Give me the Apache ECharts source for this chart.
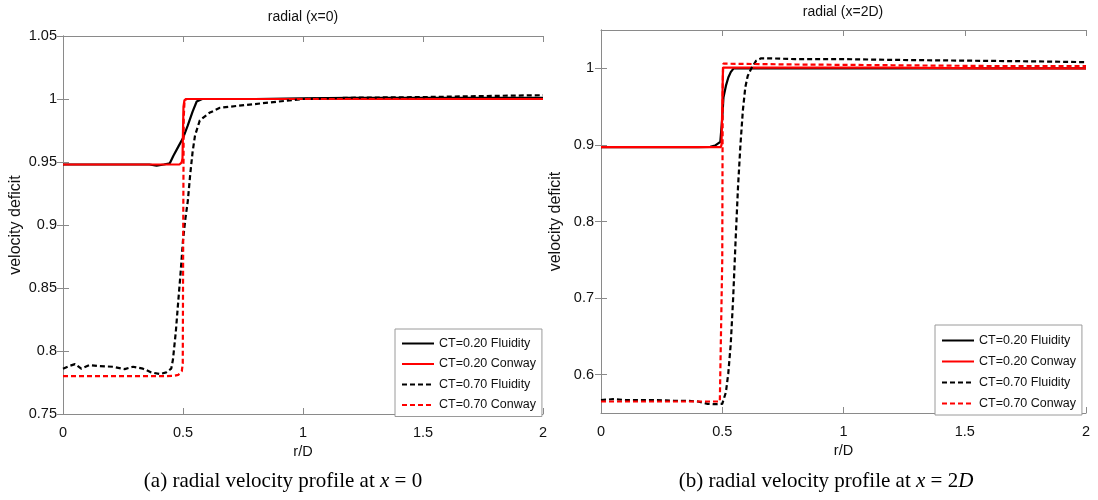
<!DOCTYPE html>
<html>
<head>
<meta charset="utf-8">
<script src="https://cdn.jsdelivr.net/npm/echarts@6/dist/echarts.min.js"></script>
<style>
  html, body { margin: 0; padding: 0; background: #fff; }
  #chart { width: 1098px; height: 500px; }
</style>
</head>
<body>
<div id="chart"></div>
<script>
// Series names (shared by both panels)
const seriesNames = ['CT=0.20 Fluidity', 'CT=0.20 Conway', 'CT=0.70 Fluidity', 'CT=0.70 Conway'];

// x-axis tick values (r/D)
const rTicks = [0, 0.5, 1, 1.5, 2];
// y-axis tick values, panel (b)
const deficitTicksB = [0.6, 0.7, 0.8, 0.9, 1.0];

// ---- Panel (a): radial profile at x = 0 ----
const rA_ct20_fluidity = [0, 0.1, 0.2, 0.3, 0.36, 0.39, 0.42, 0.445, 0.46, 0.48, 0.5, 0.52, 0.54, 0.557, 0.58, 0.7, 0.8, 1.0, 1.2, 1.5, 2.0];
const vA_ct20_fluidity = [0.948, 0.948, 0.948, 0.948, 0.948, 0.947, 0.948, 0.949, 0.955, 0.962, 0.969, 0.979, 0.99, 0.998, 1.0, 1.0, 1.0, 1.0005, 1.001, 1.001, 1.001];

const rA_ct20_conway = [0, 0.2, 0.4, 0.485, 0.494, 0.498, 0.5, 0.502, 0.506, 0.515, 0.54, 1.0, 1.5, 2.0];
const vA_ct20_conway = [0.948, 0.948, 0.948, 0.948, 0.9495, 0.953, 0.975, 0.994, 0.999, 1.0, 1.0, 1.0, 1.0, 1.0];

const rA_ct70_fluidity = [0, 0.025, 0.05, 0.076, 0.11, 0.153, 0.208, 0.257, 0.292, 0.333, 0.368, 0.403, 0.43, 0.451, 0.458, 0.47, 0.48, 0.49, 0.5, 0.51, 0.52, 0.53, 0.54, 0.55, 0.57, 0.61, 0.654, 0.7, 0.8, 0.9, 1.0, 1.2, 1.5, 1.8, 2.0];
const vA_ct70_fluidity = [0.786, 0.788, 0.7896, 0.786, 0.7888, 0.788, 0.7875, 0.7856, 0.7875, 0.786, 0.783, 0.7817, 0.783, 0.786, 0.793, 0.815, 0.839, 0.862, 0.888, 0.905, 0.919, 0.94, 0.958, 0.971, 0.983, 0.989, 0.993, 0.994, 0.996, 0.998, 1.0, 1.001, 1.0015, 1.0025, 1.003];

const rA_ct70_conway = [0, 0.2, 0.4, 0.46, 0.48, 0.488, 0.495, 0.499, 0.501, 0.503, 0.506, 0.512, 0.53, 1.0, 1.5, 2.0];
const vA_ct70_conway = [0.78, 0.78, 0.78, 0.7802, 0.781, 0.782, 0.784, 0.79, 0.9, 0.985, 0.997, 1.0, 1.0, 1.0, 1.0, 1.0];

// ---- Panel (b): radial profile at x = 2D ----
const rB_ct20_fluidity = [0, 0.2, 0.4, 0.45, 0.47, 0.492, 0.5, 0.505, 0.515, 0.525, 0.535, 0.547, 0.6, 1.0, 1.5, 2.0];
const vB_ct20_fluidity = [0.897, 0.897, 0.897, 0.8975, 0.899, 0.904, 0.935, 0.962, 0.977, 0.988, 0.995, 1.0, 1.0, 1.0, 1.0, 1.0];

const rB_ct20_conway = [0, 0.2, 0.4, 0.494, 0.497, 0.5, 0.503, 0.52, 0.8, 1.2, 1.6, 2.0];
const vB_ct20_conway = [0.897, 0.897, 0.897, 0.897, 0.9, 0.95, 1.001, 1.001, 1.001, 1.001, 1.0, 1.0];

const rB_ct70_fluidity = [0, 0.05, 0.1, 0.2, 0.3, 0.35, 0.4, 0.44, 0.47, 0.5, 0.505, 0.515, 0.525, 0.535, 0.545, 0.555, 0.565, 0.575, 0.585, 0.595, 0.605, 0.62, 0.64, 0.66, 0.7, 0.8, 1.0, 1.2, 1.5, 1.8, 2.0];
const vB_ct70_fluidity = [0.567, 0.568, 0.567, 0.567, 0.566, 0.566, 0.565, 0.562, 0.5615, 0.562, 0.564, 0.577, 0.602, 0.64, 0.7, 0.775, 0.845, 0.9, 0.945, 0.975, 0.99, 1.0, 1.01, 1.013, 1.013, 1.012, 1.012, 1.011, 1.01, 1.009, 1.008];

const rB_ct70_conway = [0, 0.2, 0.4, 0.49, 0.497, 0.5, 0.502, 0.504, 0.52, 0.8, 1.2, 1.6, 2.0];
const vB_ct70_conway = [0.565, 0.565, 0.565, 0.565, 0.566, 0.75, 0.98, 1.006, 1.006, 1.005, 1.004, 1.003, 1.003];

function zip(rs, vs) {
  return rs.map((r, i) => [r, vs[i]]);
}

const FONT = 'Liberation Sans, Arial, Helvetica, sans-serif';
const SERIF = 'Liberation Serif, Times New Roman, serif';
const AXIS_COLOR = '#8a8a8a';

const panelA = [
  { name: seriesNames[0], data: zip(rA_ct20_fluidity, vA_ct20_fluidity), color: '#000000', dash: 'solid' },
  { name: seriesNames[1], data: zip(rA_ct20_conway, vA_ct20_conway), color: '#ff0000', dash: 'solid' },
  { name: seriesNames[2], data: zip(rA_ct70_fluidity, vA_ct70_fluidity), color: '#000000', dash: [5, 3] },
  { name: seriesNames[3], data: zip(rA_ct70_conway, vA_ct70_conway), color: '#ff0000', dash: [5, 3] }
];
const panelB = [
  { name: seriesNames[0], data: zip(rB_ct20_fluidity, vB_ct20_fluidity), color: '#000000', dash: 'solid' },
  { name: seriesNames[1], data: zip(rB_ct20_conway, vB_ct20_conway), color: '#ff0000', dash: 'solid' },
  { name: seriesNames[2], data: zip(rB_ct70_fluidity, vB_ct70_fluidity), color: '#000000', dash: [5, 3] },
  { name: seriesNames[3], data: zip(rB_ct70_conway, vB_ct70_conway), color: '#ff0000', dash: [5, 3] }
];

function lineSeries(s, idx) {
  return {
    type: 'line',
    name: s.name,
    xAxisIndex: idx * 2,
    yAxisIndex: idx * 2,
    data: s.data,
    symbol: 'none',
    smooth: false,
    color: s.color,
    lineStyle: { color: s.color, width: 2.2, type: s.dash },
    itemStyle: { color: s.color },
    z: 2
  };
}

const axisLine = { show: true, lineStyle: { color: AXIS_COLOR, width: 1 } };
const tickIn = { show: true, inside: true, length: 6, lineStyle: { color: AXIS_COLOR, width: 1 } };
const tickLabel = { color: '#111', fontFamily: FONT, fontSize: 14.5 };

function xAxes(grid) {
  const base = { type: 'value', gridIndex: grid, min: 0, max: 2, interval: 0.5, splitLine: { show: false }, axisLine: axisLine, axisTick: tickIn };
  return [
    Object.assign({}, base, {
      position: 'bottom',
      name: 'r/D', nameLocation: 'middle', nameGap: 20,
      nameTextStyle: { color: '#111', fontFamily: FONT, fontSize: 14.5 },
      axisLabel: Object.assign({ margin: 11 }, tickLabel)
    }),
    Object.assign({}, base, { position: 'top', axisLabel: { show: false } })
  ];
}

const yA = { type: 'value', gridIndex: 0, min: 0.75, max: 1.05, interval: 0.05, splitLine: { show: false }, axisLine: axisLine, axisTick: tickIn };
const yB = {
  type: 'value', gridIndex: 1, min: 0.55, max: 1.05, splitLine: { show: false }, axisLine: axisLine,
  axisTick: Object.assign({ customValues: deficitTicksB }, tickIn)
};
const yName = { name: 'velocity deficit', nameLocation: 'middle', nameTextStyle: { color: '#111', fontFamily: FONT, fontSize: 16 } };

// legend samples show only the line, no marker
const legendCommon = {
  data: seriesNames, orient: 'vertical', selectedMode: false,
  itemWidth: 32, itemHeight: 12,
  itemStyle: { opacity: 0 },
  backgroundColor: '#ffffff', borderColor: '#9a9a9a', borderWidth: 1,
  textStyle: { color: '#111', fontFamily: FONT, fontSize: 12.5 }
};

const option = {
  animation: false,
  backgroundColor: '#ffffff',
  grid: [
    { left: 63, top: 36, width: 480, height: 378 },
    { left: 601, top: 30, width: 485, height: 383 }
  ],
  xAxis: xAxes(0).concat(xAxes(1)),
  yAxis: [
    Object.assign({}, yA, yName, { position: 'left', nameGap: 39, axisLabel: Object.assign({ margin: 6 }, tickLabel) }),
    Object.assign({}, yA, { position: 'right', axisLabel: { show: false } }),
    Object.assign({}, yB, yName, { position: 'left', nameGap: 37, axisLabel: Object.assign({ margin: 7, customValues: deficitTicksB }, tickLabel) }),
    Object.assign({}, yB, { position: 'right', axisLabel: { show: false } })
  ],
  legend: [
    Object.assign({}, legendCommon, { left: 395, top: 329, itemGap: 7.5, padding: [8, 6, 5, 6] }),
    Object.assign({}, legendCommon, { left: 935, top: 325, itemGap: 8, padding: [9, 6, 5, 6] })
  ],
  graphic: [
    { type: 'text', x: 303, y: 17, style: { text: 'radial (x=0)', fill: '#111', font: '14px ' + FONT, textAlign: 'center', textVerticalAlign: 'middle' } },
    { type: 'text', x: 843, y: 12, style: { text: 'radial (x=2D)', fill: '#111', font: '14px ' + FONT, textAlign: 'center', textVerticalAlign: 'middle' } },
    {
      type: 'text', x: 283, y: 481,
      style: {
        text: '(a) radial velocity profile at {i|x} = 0',
        fill: '#000', fontFamily: SERIF, fontSize: 21, textAlign: 'center', textVerticalAlign: 'middle',
        rich: { i: { fontFamily: SERIF, fontSize: 21, fontStyle: 'italic', fill: '#000' } }
      }
    },
    {
      type: 'text', x: 826, y: 481,
      style: {
        text: '(b) radial velocity profile at {i|x} = 2{i|D}',
        fill: '#000', fontFamily: SERIF, fontSize: 21, textAlign: 'center', textVerticalAlign: 'middle',
        rich: { i: { fontFamily: SERIF, fontSize: 21, fontStyle: 'italic', fill: '#000' } }
      }
    }
  ],
  series: panelA.map(s => lineSeries(s, 0)).concat(panelB.map(s => lineSeries(s, 1)))
};

const chart = echarts.init(document.getElementById('chart'), null, { renderer: 'canvas' });
chart.setOption(option);
</script>
</body>
</html>
